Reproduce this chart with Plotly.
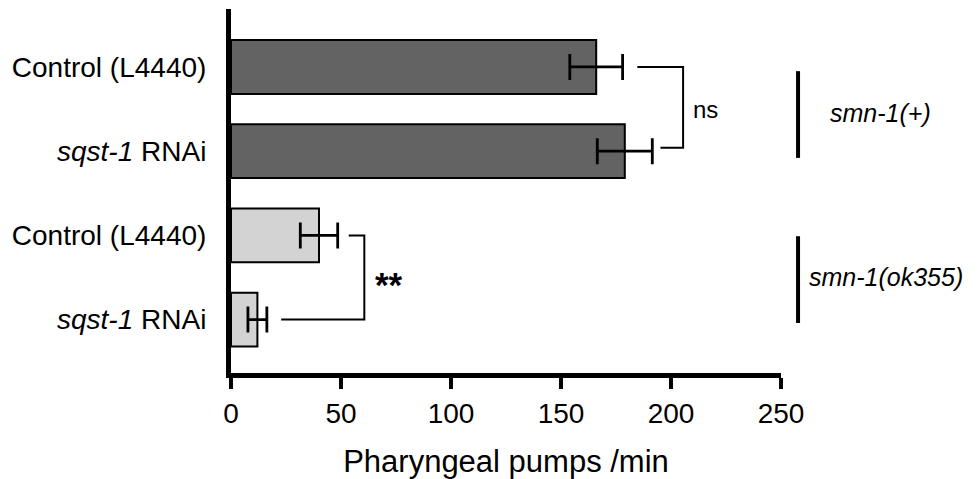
import plotly.graph_objects as go

categories = ["Control (L4440)", "<i>sqst-1</i> RNAi", "Control (L4440)", "<i>sqst-1</i> RNAi"]
means = [166, 179, 40, 12]
errors = [12, 12.5, 8.5, 4.3]
colors = ["#636363", "#636363", "#d3d3d3", "#d3d3d3"]
x_ticks = [0, 50, 100, 150, 200, 250]
group_labels = ["<i>smn-1(+)</i>", "<i>smn-1(ok355)</i>"]
sig_labels = ["ns", "<b>**</b>"]

ypos = list(range(len(categories)))

fig = go.Figure()
fig.add_trace(go.Bar(
    x=means, y=ypos, orientation="h", width=0.64,
    marker=dict(color=colors, line=dict(color="black", width=2)),
    error_x=dict(type="data", array=errors, visible=True, color="black",
                 thickness=2.8, width=13),
    showlegend=False,
))

font = "Liberation Sans, Arial, sans-serif"

# significance brackets
shapes = [
    dict(type="path", xref="x", yref="y",
         path="M 184.7 0 L 205.5 0 L 205.5 0.96 L 195.2 0.96",
         line=dict(color="black", width=2)),
    dict(type="path", xref="x", yref="y",
         path="M 53.5 2 L 60.6 2 L 60.6 3 L 22.8 3",
         line=dict(color="black", width=2)),
    # group bars on right
    dict(type="line", xref="paper", yref="y", x0=1.031, x1=1.031, y0=0.05, y1=1.08,
         line=dict(color="black", width=4)),
    dict(type="line", xref="paper", yref="y", x0=1.031, x1=1.031, y0=2.01, y1=3.04,
         line=dict(color="black", width=4)),
]

annotations = [
    dict(x=215.5, y=0.5, xref="x", yref="y", text=sig_labels[0], showarrow=False,
         font=dict(size=24, family=font, color="black")),
    dict(x=72, y=2.58, xref="x", yref="y", text=sig_labels[1], showarrow=False,
         font=dict(size=35, family=font, color="black")),
    dict(x=1.086, y=0.55, xref="paper", yref="y", text=group_labels[0], showarrow=False,
         xanchor="left", font=dict(size=25, family=font, color="black")),
    dict(x=1.048, y=2.5, xref="paper", yref="y", text=group_labels[1], showarrow=False,
         xanchor="left", font=dict(size=25, family=font, color="black")),
]

fig.update_layout(
    width=979, height=479,
    margin=dict(l=223, r=206, t=1, b=113.5),
    plot_bgcolor="white", paper_bgcolor="white",
    font=dict(family=font, color="black", size=28),
    shapes=shapes, annotations=annotations,
    bargap=0.36,
)
fig.update_xaxes(
    range=[0, 250], tickvals=x_ticks, ticktext=[str(v) for v in x_ticks],
    showline=True, linecolor="black", linewidth=5,
    ticks="outside", ticklen=11, tickwidth=4, tickcolor="black",
    showgrid=False, zeroline=False,
    tickfont=dict(size=28, family=font, color="black"),
    title=dict(text="Pharyngeal pumps /min", font=dict(size=31, family=font, color="black"), standoff=24),
)
fig.update_yaxes(
    range=[3.634, -0.688], tickvals=ypos, ticktext=categories,
    showline=True, linecolor="black", linewidth=5,
    ticks="outside", ticklen=14, tickcolor="rgba(0,0,0,0)",
    showgrid=False, zeroline=False,
    tickfont=dict(size=28, family=font, color="black"),
)

fig.write_html("out.html")
